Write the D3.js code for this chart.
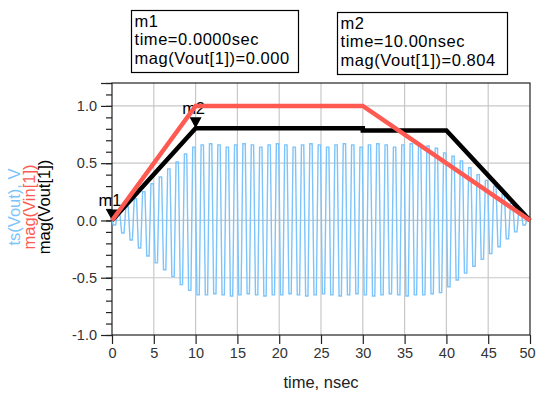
<!DOCTYPE html>
<html>
<head>
<meta charset="utf-8">
<script src="https://d3js.org/d3.v7.min.js"></script>
<style>
  body { margin: 0; background: #fff; }
  svg { display: block; font-family: "Liberation Sans", Arial, sans-serif; }
</style>
</head>
<body>
<script>
// ---- data ----
const xTicks = [0, 5, 10, 15, 20, 25, 30, 35, 40, 45, 50];
const yTicks = [-1.0, -0.5, 0.0, 0.5, 1.0];
const yTickLabels = ['-1.0', '-0.5', '0.0', '0.5', '1.0'];

// mag(Vin[1]) corners
const vinTime = [0, 10, 30, 50];
const vinMag = [0, 1.0, 1.0, 0];

// mag(Vout[1]) corners
const voutTime = [0, 10, 30, 30, 40, 50];
const voutMag = [0, 0.804, 0.804, 0.786, 0.786, 0];

// ts(Vout): one carrier cycle per nsec, upper and lower extreme of each cycle
const carrierPeriod = 1; // nsec
const troughOffset = 0.3;
const peakOffset = 0.8;
const bluePeaks = [
  0.06, 0.12, 0.19, 0.25, 0.32, 0.38, 0.45, 0.51, 0.58, 0.64,
  0.66, 0.67, 0.66, 0.64, 0.66, 0.67, 0.66, 0.64, 0.66, 0.67,
  0.66, 0.64, 0.66, 0.67, 0.66, 0.64, 0.66, 0.67, 0.66, 0.64,
  0.66, 0.67, 0.66, 0.64, 0.66, 0.67, 0.66, 0.65, 0.63, 0.59,
  0.56, 0.52, 0.46, 0.40, 0.35, 0.30, 0.23, 0.15, 0.08, 0.02
];
const blueTroughs = [
  -0.04, -0.11, -0.17, -0.24, -0.31, -0.37, -0.43, -0.49, -0.56, -0.61,
  -0.65, -0.65, -0.64, -0.65, -0.66, -0.65, -0.64, -0.65, -0.66, -0.65,
  -0.65, -0.64, -0.65, -0.66, -0.65, -0.64, -0.65, -0.66, -0.65, -0.64,
  -0.65, -0.66, -0.65, -0.64, -0.65, -0.66, -0.65, -0.65, -0.64, -0.63,
  -0.58, -0.52, -0.46, -0.40, -0.34, -0.29, -0.23, -0.16, -0.10, -0.04
];

// markers
const markerNames = ['m1', 'm2'];
const markerTime = [0, 10];
const markerValue = [0, 0.804];
const markerTimeText = ['time=0.0000sec', 'time=10.00nsec'];
const markerMagText = ['mag(Vout[1])=0.000', 'mag(Vout[1])=0.804'];

// legend (rotated, left side)
const legendLabels = ['ts(Vout), V', 'mag(Vin[1])', 'mag(Vout[1])'];
const legendColors = ['#7cc4fb', '#ff5a52', '#000000'];

// ---- layout ----
const width = 537;
const height = 393;
const margin = { top: 83, right: 7, bottom: 58, left: 112 };
const chartW = width - margin.left - margin.right;
const chartH = height - margin.top - margin.bottom;

const svg = d3.select('body').append('svg')
  .attr('width', width)
  .attr('height', height);

const xScale = d3.scaleLinear().domain([0, 50]).range([margin.left, margin.left + chartW]);
const yScale = d3.scaleLinear().domain([-1.0, 1.2]).range([margin.top + chartH, margin.top]);

// grid
const grid = svg.append('g').attr('stroke', '#c8c8c8').attr('stroke-width', 1.2);
grid.selectAll('line.vx')
  .data(xTicks.slice(1, -1))
  .join('line')
  .attr('x1', d => xScale(d)).attr('x2', d => xScale(d))
  .attr('y1', yScale(1.2)).attr('y2', yScale(-1.0));
grid.selectAll('line.hy')
  .data(yTicks.slice(1))
  .join('line')
  .attr('x1', xScale(0)).attr('x2', xScale(50))
  .attr('y1', d => yScale(d)).attr('y2', d => yScale(d));

// frame
svg.append('rect')
  .attr('x', xScale(0)).attr('y', yScale(1.2))
  .attr('width', chartW).attr('height', chartH)
  .attr('fill', 'none').attr('stroke', '#222').attr('stroke-width', 1.2);

// y axis: minor ticks every 0.1, major labelled ticks
const minorTicks = d3.range(-10, 13).map(i => i / 10);
svg.append('g')
  .attr('transform', `translate(${xScale(0)},0)`)
  .call(d3.axisLeft(yScale).tickValues(minorTicks).tickSize(6).tickFormat(''))
  .call(g => g.select('.domain').remove())
  .call(g => g.selectAll('line').attr('stroke', '#222').attr('stroke-width', 1.2));

svg.append('g')
  .attr('transform', `translate(${xScale(0)},0)`)
  .call(d3.axisLeft(yScale).tickValues(yTicks.concat([1.2])).tickSize(11).tickPadding(4)
    .tickFormat(d => { const i = yTicks.indexOf(d); return i < 0 ? '' : yTickLabels[i]; }))
  .call(g => g.select('.domain').remove())
  .call(g => g.selectAll('line').attr('stroke', '#222').attr('stroke-width', 1.2))
  .call(g => g.selectAll('text').attr('fill', '#333')
    .style('font-size', '14.5px').style('font-family', '"Liberation Sans", Arial, sans-serif'));

// x axis
svg.append('g')
  .attr('transform', `translate(0,${yScale(-1.0)})`)
  .call(d3.axisBottom(xScale).tickValues(xTicks).tickSize(9).tickPadding(4).tickFormat(d3.format('d')))
  .call(g => g.select('.domain').remove())
  .call(g => g.selectAll('line').attr('stroke', '#222').attr('stroke-width', 1.2))
  .call(g => g.selectAll('text').attr('fill', '#333')
    .style('font-size', '14.5px').style('font-family', '"Liberation Sans", Arial, sans-serif'))
  .call(g => g.selectAll('.tick').filter(d => d === 50).select('text').attr('x', -3));

svg.append('text')
  .attr('x', (xScale(0) + xScale(50)) / 2)
  .attr('y', 388)
  .attr('text-anchor', 'middle')
  .attr('fill', '#222')
  .style('font-size', '16.5px')
  .text('time, nsec');

// legend
legendLabels.forEach((lab, i) => {
  svg.append('text')
    .attr('transform', `translate(${20 + i * 15},207) rotate(-90)`)
    .attr('text-anchor', 'middle')
    .attr('fill', legendColors[i])
    .style('font-size', '16.5px')
    .text(lab);
});

// ts(Vout) samples: sharp transitions with short flats, like the sampled trace
const hold = 0.14;
const bluePts = [[0, 0]];
bluePeaks.forEach((p, k) => {
  const tT = k * carrierPeriod + troughOffset;
  const tP = k * carrierPeriod + peakOffset;
  bluePts.push([tT - hold, blueTroughs[k]], [tT + hold, blueTroughs[k]]);
  bluePts.push([tP - hold, p], [tP + hold, p]);
});
bluePts.push([50, 0]);

const line = d3.line()
  .x(d => xScale(d[0]))
  .y(d => yScale(d[1]));

svg.append('path')
  .datum(bluePts)
  .attr('fill', 'none')
  .attr('stroke', legendColors[0])
  .attr('stroke-width', 1.4)
  .attr('d', line);

// mag(Vout[1])
svg.append('path')
  .datum(voutTime.map((t, i) => [t, voutMag[i]]))
  .attr('fill', 'none')
  .attr('stroke', '#000')
  .attr('stroke-width', 4.5)
  .attr('d', line);

// markers
markerNames.forEach((name, i) => {
  const px = xScale(markerTime[i]);
  const py = yScale(markerValue[i]);
  svg.append('path')
    .attr('d', `M${px - 6},${py - 11}L${px + 6},${py - 11}L${px},${py}Z`)
    .attr('fill', '#000');
  svg.append('text')
    .attr('x', px - 2)
    .attr('y', py - 14)
    .attr('text-anchor', 'middle')
    .attr('fill', '#000')
    .style('font-size', '16.5px')
    .text(name);
});

// mag(Vin[1])
svg.append('path')
  .datum(vinTime.map((t, i) => [t, vinMag[i]]))
  .attr('fill', 'none')
  .attr('stroke', legendColors[1])
  .attr('stroke-width', 4.5)
  .attr('d', line);

// marker readout boxes
const boxX = [131.5, 337.5];
const boxY = [10.5, 12.5];
const boxW = [167, 170];
markerNames.forEach((name, i) => {
  const g = svg.append('g').attr('transform', `translate(${boxX[i]},${boxY[i]})`);
  g.append('rect')
    .attr('width', boxW[i]).attr('height', 62)
    .attr('fill', '#fff').attr('stroke', '#000').attr('stroke-width', 1.2);
  [name, markerTimeText[i], markerMagText[i]].forEach((s, j) => {
    g.append('text')
      .attr('x', 3)
      .attr('y', 16.5 + j * 18.3)
      .attr('fill', '#000')
      .style('font-size', '16.5px')
      .style('letter-spacing', '0.55px')
      .text(s);
  });
});
</script>
</body>
</html>
